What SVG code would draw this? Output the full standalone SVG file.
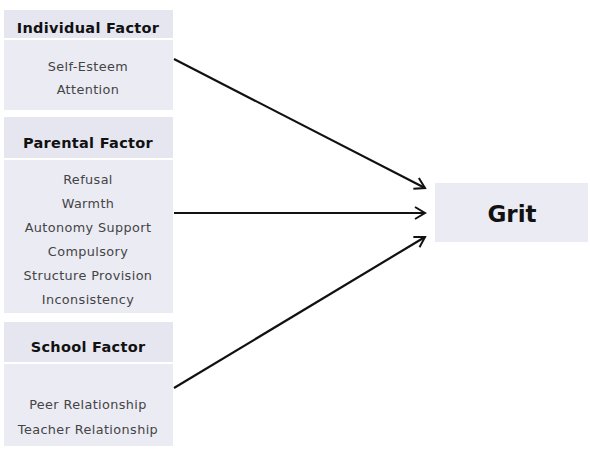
<svg xmlns="http://www.w3.org/2000/svg" width="590" height="450" viewBox="0 0 590 450">
<defs>
<style>
.hd{fill:#e6e6f0}
.bd{fill:#ebebf4}
.t{font-family:"DejaVu Sans",sans-serif;fill:#444;text-anchor:middle;font-size:12.8px;letter-spacing:0.4px}
.h{font-family:"DejaVu Sans",sans-serif;fill:#111;text-anchor:middle;font-size:14.5px;font-weight:bold;letter-spacing:0.3px}
.g{font-family:"DejaVu Sans",sans-serif;fill:#111;text-anchor:middle;font-size:23px;font-weight:bold}
.c{stroke:#111;stroke-width:2.2;fill:none;marker-end:url(#ah)}
</style>
<marker id="ah" markerWidth="14" markerHeight="14" refX="11" refY="7" orient="auto" markerUnits="userSpaceOnUse">
<path d="M1,1 L11,7 L1,13" fill="none" stroke="#111" stroke-width="2"/>
</marker>
</defs>
<rect width="590" height="450" fill="#fff"/>
<g id="individual">
<rect class="hd" x="4" y="10" width="169" height="28"/>
<rect class="bd" x="4" y="40" width="169" height="70"/>
<text class="h" x="88" y="33">Individual Factor</text>
<text class="t" x="88" y="71">Self-Esteem</text>
<text class="t" x="88" y="94">Attention</text>
</g>
<g id="parental">
<rect class="hd" x="4" y="117" width="169" height="41"/>
<rect class="bd" x="4" y="160" width="169" height="153"/>
<text class="h" x="88" y="148">Parental Factor</text>
<text class="t" x="88" y="184">Refusal</text>
<text class="t" x="88" y="208">Warmth</text>
<text class="t" x="88" y="232">Autonomy Support</text>
<text class="t" x="88" y="256">Compulsory</text>
<text class="t" x="88" y="280">Structure Provision</text>
<text class="t" x="88" y="304">Inconsistency</text>
</g>
<g id="school">
<rect class="hd" x="4" y="322" width="169" height="40"/>
<rect class="bd" x="4" y="364" width="169" height="82"/>
<text class="h" x="88" y="352">School Factor</text>
<text class="t" x="88" y="409">Peer Relationship</text>
<text class="t" x="88" y="434">Teacher Relationship</text>
</g>
<g id="grit">
<rect class="bd" x="435" y="183" width="153" height="59"/>
<text class="g" x="512" y="222">Grit</text>
</g>
<g id="connectors">
<line class="c" x1="174" y1="59" x2="425" y2="188"/>
<line class="c" x1="174" y1="213" x2="425" y2="213"/>
<line class="c" x1="174" y1="388" x2="425" y2="237"/>
</g>
</svg>
